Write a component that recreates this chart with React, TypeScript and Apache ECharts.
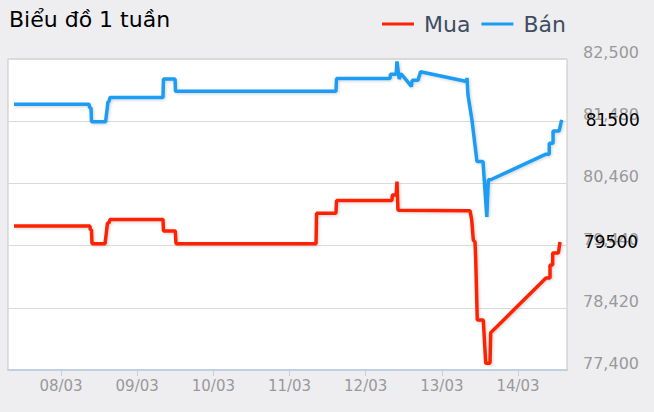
import React, { useEffect, useRef } from 'react';
import * as echarts from 'echarts';

// day of March (fractional) and price
const muaDays = [
  7.383, 8.38, 8.385, 8.4, 8.407, 8.578, 8.61, 8.63, 8.643, 9.339, 9.345, 9.5, 9.51,
  11.348, 11.355, 11.61, 11.617, 12.345, 12.35, 12.4, 12.411, 12.424, 13.37, 13.392,
  13.413, 13.435, 13.444, 13.465, 13.544, 13.576, 13.632, 13.641, 14.367, 14.42, 14.42,
  14.455, 14.455, 14.53, 14.551,
];
const muaPrices = [
  79760, 79760, 79700, 79700, 79470, 79470, 79810, 79810, 79870, 79870, 79680, 79680, 79470,
  79470, 79970, 79970, 80180, 80180, 80270, 80270, 80490, 80020, 80010, 79860,
  79530, 79500, 79240, 78220, 78220, 77510, 77510, 78010, 78910, 78910, 79120,
  79120, 79320, 79320, 79500,
];

const banDays = [
  7.383, 8.368, 8.375, 8.394, 8.4, 8.585, 8.617, 8.63, 8.643, 9.339, 9.345, 9.497, 9.503,
  11.61, 11.617, 12.319, 12.325, 12.4, 12.411, 12.44, 12.46, 12.47, 12.6, 12.61, 12.687,
  12.72, 13.326, 13.33, 13.343, 13.395, 13.461, 13.54, 13.59, 13.61, 13.641, 14.367,
  14.41, 14.41, 14.46, 14.46, 14.54, 14.573,
];
const banPrices = [
  81760, 81760, 81700, 81700, 81470, 81470, 81800, 81800, 81870, 81870, 82170, 82170, 81970,
  81970, 82180, 82180, 82250, 82250, 82460, 82170, 82250, 82250, 82050, 82150, 82150,
  82290, 82130, 82190, 81910, 81500, 80820, 80820, 79910, 80520, 80520, 80940,
  80940, 81120, 81120, 81320, 81320, 81500,
];

const priceTicks = [77400, 78420, 79440, 80460, 81480, 82500];
const dayTicks = [8, 9, 10, 11, 12, 13, 14];

const pair = (xs: number[], ys: number[]) => xs.map((x, i) => [x, ys[i]]);

export default function App() {
  const ref = useRef<HTMLDivElement>(null);

  useEffect(() => {
    document.body.style.margin = '0';
    if (!ref.current) return;
    const chart = echarts.init(ref.current, undefined, { renderer: 'svg' });

    const lineShadow = {
      shadowColor: 'rgba(0,0,0,0.18)',
      shadowBlur: 3,
      shadowOffsetX: 1,
      shadowOffsetY: 1,
    };
    const endLabel = {
      show: true,
      distance: 24,
      color: '#000',
      fontSize: 17,
      formatter: (p: any) => String(p.value[1]),
    };

    chart.setOption({
      animation: false,
      backgroundColor: '#EEEEF1',
      textStyle: { fontFamily: 'DejaVu Sans' },
      title: {
        text: 'Biểu đồ 1 tuần',
        left: 4,
        top: 3,
        textStyle: { fontSize: 22, fontWeight: 'normal', color: '#000' },
      },
      legend: {
        data: ['Mua', 'Bán'],
        left: 382,
        top: 13,
        padding: 0,
        icon: 'rect',
        itemWidth: 32,
        itemHeight: 3,
        itemGap: 11,
        textStyle: { fontSize: 22, color: '#3F4D61', padding: [0, 0, 0, 5] },
      },
      grid: {
        left: 8,
        right: 87,
        top: 59,
        bottom: 42,
        show: true,
        backgroundColor: '#fff',
        borderColor: '#C4C4C4',
        borderWidth: 1,
      },
      xAxis: {
        type: 'value',
        min: 7.304,
        max: 14.643,
        axisLine: { lineStyle: { color: '#C0D0E0', width: 2 } },
        axisTick: { customValues: dayTicks, length: 6, lineStyle: { color: '#C0D0E0' } },
        axisLabel: {
          customValues: dayTicks,
          formatter: (v: number) => `${String(v).padStart(2, '0')}/03`,
          color: '#999',
          fontSize: 15,
          margin: 8,
        },
        splitLine: { show: false },
      },
      yAxis: {
        type: 'value',
        position: 'right',
        min: 77400,
        max: 82500,
        axisLine: { show: false },
        axisTick: { show: false, customValues: priceTicks },
        axisLabel: {
          customValues: priceTicks,
          formatter: (v: number) => v.toLocaleString('en-US'),
          color: '#999',
          fontSize: 16,
          margin: 16,
          verticalAlign: 'bottom',
          lineHeight: 13,
        },
        splitLine: { show: true, lineStyle: { color: '#DADADA', width: 1 } },
      },
      series: [
        {
          name: 'Mua',
          type: 'line',
          color: '#FF2200',
          showSymbol: false,
          data: pair(muaDays, muaPrices),
          lineStyle: { width: 3.5, color: '#FF2200', ...lineShadow },
          endLabel,
        },
        {
          name: 'Bán',
          type: 'line',
          color: '#1A9CF2',
          showSymbol: false,
          data: pair(banDays, banPrices),
          lineStyle: { width: 3.5, color: '#1A9CF2', ...lineShadow },
          endLabel,
        },
      ],
    });

    return () => chart.dispose();
  }, []);

  return <div ref={ref} style={{ width: 654, height: 412 }} />;
}
